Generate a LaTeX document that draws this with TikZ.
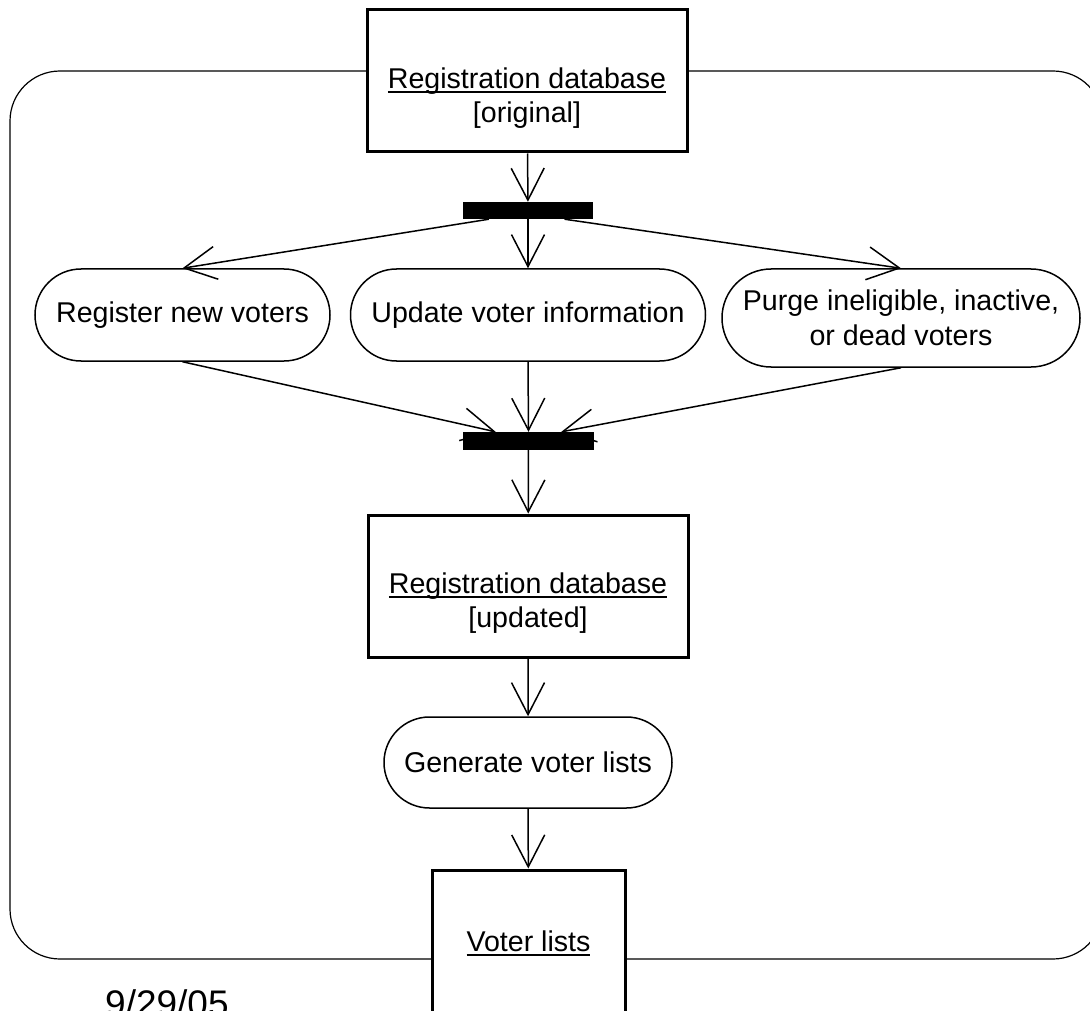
\documentclass[tikz,border=0pt]{standalone}
\usepackage{fontspec}
\setmainfont{Liberation Sans}
\usetikzlibrary{arrows.meta,shapes.misc,calc}
\newcommand\ulx[1]{\setbox0\hbox{#1}\rlap{\rule[-4.5pt]{\wd0}{1.8pt}}\box0}
\begin{document}
\begin{tikzpicture}[x=1pt,y=-1pt,
  every node/.style={font=\fontsize{28.6}{34.5}\selectfont, align=center, inner sep=0pt},
  objbox/.style={draw, line width=3pt, fill=white, minimum width=320pt, minimum height=142pt},
  pill/.style={draw, rounded rectangle, line width=1.5pt, fill=white},
  syncbar/.style={fill=black, draw=none, minimum width=131pt, minimum height=18pt},
  flow/.style={line width=1.5pt, -{Straight Barb[length=32pt,width=33pt]}},
  frame/.style={line width=1.2pt, rounded corners=50pt},
]
\useasboundingbox (0,0) rectangle (1090,1011);
\clip (0,0) rectangle (1090,1011);

% enclosing frame
\draw[frame] (10,71) rectangle (1103,959);

% objects
\node[objbox] (db0) at (527,81) {\rule{0pt}{55pt}\ulx{Registration database}\\{}[original]};
\node[syncbar, minimum width=130pt, minimum height=17pt] (fork) at (528,210.5) {};
\node[pill, minimum width=295pt, minimum height=92pt] (reg) at (182.5,315) {Register new voters};
\node[pill, minimum width=355pt, minimum height=92pt] (upd) at (528,315) {Update voter information};
\node[pill, minimum width=358pt, minimum height=98pt] (purge) at (901,318) {Purge ineligible, inactive,\\or dead voters};
\node[syncbar] (join) at (528.5,441) {};
\node[objbox] (db1) at (528,586) {\rule{0pt}{55pt}\ulx{Registration database}\\{}[updated]};
\node[pill, minimum width=288pt, minimum height=91pt] (gen) at (528,762.5) {Generate voter lists};
\node[objbox, minimum width=193pt, minimum height=146pt] (lists) at (528.5,943) {\ulx{Voter lists}};
\node[font=\fontsize{37}{44}\selectfont, anchor=base west] (date) at (105,1016) {9/29/05};

% flows
\draw[flow] (db0) -- (fork);
\draw[flow] ($(fork.south west)!0.2!(fork.south east)$) -- (reg.north);
\draw[flow] (fork) -- (upd.north);
\draw[flow] ($(fork.south west)!0.78!(fork.south east)$) -- (purge.north);
\draw[flow] (reg.south) -- ($(join.north west)!0.25!(join.north east)$);
\draw[flow] (upd.south) -- (join.north);
\draw[flow] (purge.south) -- ($(join.north west)!0.75!(join.north east)$);
\draw[flow] (join) -- (db1);
\draw[flow] (db1) -- (gen);
\draw[flow] (gen) -- (lists);
\end{tikzpicture}
\end{document}
